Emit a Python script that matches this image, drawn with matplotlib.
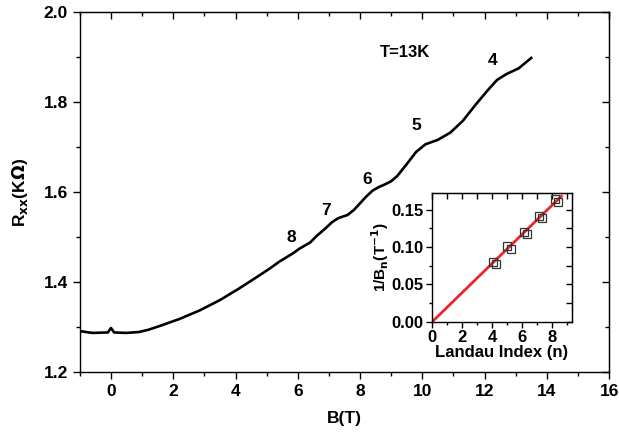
import numpy as np
import matplotlib
matplotlib.use("Agg")
import matplotlib.pyplot as plt
from matplotlib.ticker import MultipleLocator

plt.rcParams['font.family'] = ['Liberation Sans', 'DejaVu Sans']
plt.rcParams['font.weight'] = 'bold'

# main curve R_xx(B)
B = [-1.0, -0.6, -0.1, 0.0, 0.1, 0.5, 0.9, 1.2, 1.55, 2.2, 2.85, 3.5, 4.1,
     4.75, 5.1, 5.4, 5.85, 6.05, 6.4, 6.6, 6.9, 7.1, 7.3, 7.6, 7.8, 8.0,
     8.2, 8.4, 8.6, 8.8, 9.0, 9.2, 9.5, 9.8, 10.1, 10.5, 10.9, 11.3, 11.7,
     12.1, 12.4, 12.7, 13.1, 13.5]
R = [1.291, 1.287, 1.288, 1.298, 1.288, 1.287, 1.289, 1.294, 1.302, 1.318,
     1.337, 1.360, 1.385, 1.414, 1.430, 1.445, 1.464, 1.474, 1.488, 1.502,
     1.520, 1.533, 1.542, 1.549, 1.560, 1.575, 1.590, 1.603, 1.611, 1.617,
     1.624, 1.636, 1.662, 1.689, 1.706, 1.716, 1.732, 1.758, 1.793, 1.826,
     1.849, 1.862, 1.875, 1.898]

# Landau level labels
lvl_text = ['8', '7', '6', '5', '4']
lvl_B = [5.79, 6.92, 8.24, 9.82, 12.26]
lvl_R = [1.498, 1.558, 1.627, 1.747, 1.893]

# inset: 1/B_n vs Landau index (two sets)
n1 = [4.05, 5.0, 6.1, 7.1, 8.2]
invB1 = [0.080, 0.101, 0.120, 0.141, 0.164]
n2 = [4.27, 5.27, 6.33, 7.33, 8.4]
invB2 = [0.077, 0.097, 0.117, 0.139, 0.160]
fit_n = [0.0, 8.6]
fit_y = [0.0, 0.168]

fig = plt.figure(figsize=(6.19, 4.44), dpi=100)
ax = fig.add_axes([0.129, 0.162, 0.855, 0.811])
ax.plot(B, R, color='black', lw=1.9, solid_joinstyle='round')
ax.set_xlim(-1, 16)
ax.set_ylim(1.2, 2.0)
ax.xaxis.set_major_locator(MultipleLocator(2))
ax.xaxis.set_minor_locator(MultipleLocator(1))
ax.yaxis.set_major_locator(MultipleLocator(0.2))
ax.yaxis.set_minor_locator(MultipleLocator(0.1))
ax.yaxis.set_major_formatter(plt.FuncFormatter(lambda v, p: '%.1f' % v))
ax.tick_params(which='both', direction='out', labelsize=12.5, width=1.0)
ax.tick_params(which='major', length=5)
ax.tick_params(which='minor', length=3)
ax2t = ax.secondary_xaxis('top')
ax2t.xaxis.set_major_locator(MultipleLocator(2))
ax2t.xaxis.set_minor_locator(MultipleLocator(1))
ax2t.tick_params(which='both', direction='in', labeltop=False, width=1.0)
ax2t.tick_params(which='major', length=5)
ax2t.tick_params(which='minor', length=3)
ax2r = ax.secondary_yaxis('right')
ax2r.yaxis.set_major_locator(MultipleLocator(0.2))
ax2r.yaxis.set_minor_locator(MultipleLocator(0.1))
ax2r.tick_params(which='both', direction='in', labelright=False, width=1.0)
ax2r.tick_params(which='major', length=5)
ax2r.tick_params(which='minor', length=3)
for s in ax.spines.values():
    s.set_linewidth(1.0)
ax.set_xlabel('B(T)', fontsize=12.5, fontweight='bold', labelpad=9)
ax.set_ylabel(r'R$_{\mathbf{xx}}$(K$\Omega$)', fontsize=12.5, fontweight='bold', labelpad=10)

for t, x, y in zip(lvl_text, lvl_B, lvl_R):
    ax.text(x, y, t, fontsize=12.5, fontweight='bold', ha='center', va='center')
ax.text(9.43, 1.909, 'T=13K', fontsize=12, fontweight='bold', ha='center', va='center')

# inset
ins = fig.add_axes([0.698, 0.275, 0.226, 0.290])
ins.plot(fit_n, fit_y, color='#e8262b', lw=2.0, zorder=2)
ins.plot(n1, invB1, 's', mfc='none', mec='#333333', ms=6, mew=0.9, zorder=3)
ins.plot(n2, invB2, 's', mfc='none', mec='#333333', ms=6, mew=0.9, zorder=3)
ins.set_xlim(0, 9.3)
ins.set_ylim(0, 0.172)
ins.xaxis.set_major_locator(MultipleLocator(2))
ins.xaxis.set_minor_locator(MultipleLocator(1))
ins.yaxis.set_major_locator(MultipleLocator(0.05))
ins.yaxis.set_minor_locator(MultipleLocator(0.025))
ins.yaxis.set_major_formatter(plt.FuncFormatter(lambda v, p: '%.2f' % v))
ins.tick_params(which='both', direction='out', labelsize=12, width=1.0, pad=2)
ins.tick_params(which='major', length=4)
ins.tick_params(which='minor', length=2.5)
it = ins.secondary_xaxis('top')
it.xaxis.set_major_locator(MultipleLocator(1))
it.tick_params(direction='in', labeltop=False, length=4, width=1.0)
ir = ins.secondary_yaxis('right')
ir.yaxis.set_major_locator(MultipleLocator(0.025))
ir.tick_params(direction='in', labelright=False, length=4, width=1.0)
for s in ins.spines.values():
    s.set_linewidth(1.0)
ins.set_xlabel('Landau Index (n)', fontsize=12, fontweight='bold', labelpad=0)
ins.set_ylabel(r'1/B$_{\mathbf{n}}$(T$^{\mathbf{-1}}$)', fontsize=11, fontweight='bold', labelpad=0)

fig.savefig('out.png', dpi=100)
